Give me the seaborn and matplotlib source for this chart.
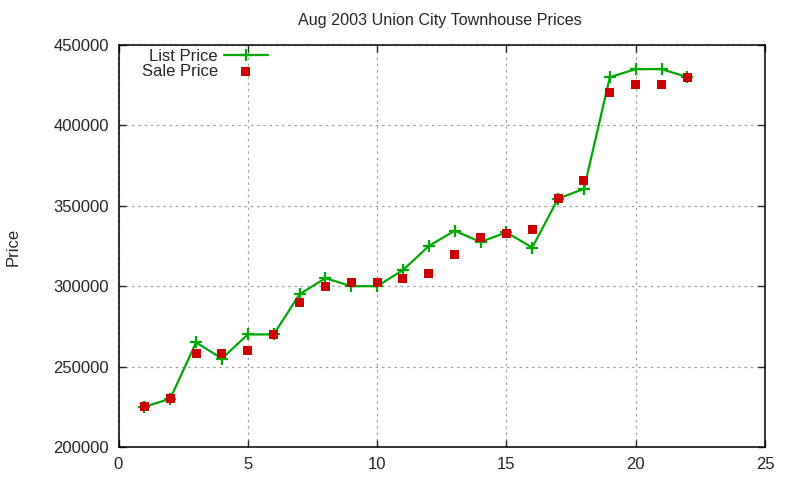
import numpy as np
import pandas as pd
import matplotlib
matplotlib.use('Agg')
import matplotlib.pyplot as plt
import seaborn as sns

# data
house = list(range(1, 23))
list_price = [225000, 230000, 265000, 255000, 270000, 270000, 295000, 305000,
              300000, 300000, 310000, 325000, 334500, 327500, 333500, 324000,
              354500, 360500, 430000, 435000, 435000, 430000]
sale_price = [225000, 230000, 258000, 258000, 260000, 270000, 290000, 300000,
              302000, 302000, 305000, 308000, 320000, 330000, 332500, 335000,
              354500, 365500, 420500, 425500, 425500, 429500]

df = pd.DataFrame({'House': house, 'List Price': list_price, 'Sale Price': sale_price})

sns.set_style('white')
plt.rcParams['font.family'] = ['Liberation Sans', 'DejaVu Sans']

fig = plt.figure(figsize=(8, 4.8), dpi=100)
ax = fig.add_axes([118.5 / 800, 1 - 447 / 480, (765 - 118.5) / 800, (447 - 45) / 480])

green = '#00a800'
sns.lineplot(data=df, x='House', y='List Price', ax=ax, color=green,
             linewidth=1.6, marker='+', markersize=8, markeredgewidth=1.6,
             markeredgecolor=green, label='List Price')
sns.scatterplot(data=df, x='House', y='Sale Price', ax=ax, color='#cc0000',
                marker='s', s=42, edgecolor='none', label='Sale Price', zorder=3)

ax.set_xlim(0, 25)
ax.set_ylim(200000, 450000)
ax.set_xticks([0, 5, 10, 15, 20, 25])
ax.set_yticks([200000, 250000, 300000, 350000, 400000, 450000])
ax.grid(True, color='#a0a0a0', linestyle=(0, (2, 3)), linewidth=0.9)
ax.tick_params(direction='in', length=5, labelsize=12, width=1, pad=7,
               left=True, bottom=True, top=True, right=True)
for s in ax.spines.values():
    s.set_color('black')
    s.set_linewidth(1.1)

ax.set_xlabel('')
ax.set_ylabel('')
fig.text(13 / 800, 1 - 247 / 480, 'Price', rotation=90,
         ha='center', va='center', fontsize=12)
fig.text(440 / 800, 1 - 20 / 480, 'Aug 2003 Union City Townhouse Prices',
         ha='center', va='center', fontsize=11.6)

leg = ax.legend(loc='upper left', bbox_to_anchor=(0.018, 1.02), frameon=False,
                markerfirst=False, fontsize=12, handlelength=2.65,
                handletextpad=0.35, labelspacing=0.0, borderaxespad=0.3)
for t in leg.get_texts():
    t.set_ha('right')

fig.savefig('out.png', dpi=100)
